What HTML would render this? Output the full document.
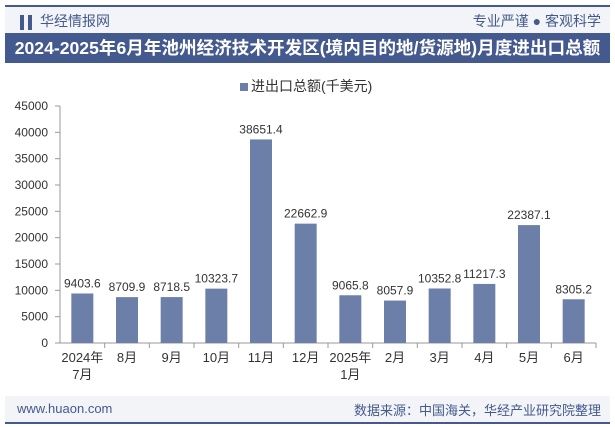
<!DOCTYPE html>
<html><head><meta charset="utf-8"><style>
body{margin:0;width:615px;height:427px;overflow:hidden;background:#fff;font-family:"Liberation Sans","Noto Sans CJK SC",sans-serif;}
#wrap{position:relative;width:615px;height:427px;}
.abs{position:absolute;}
</style></head><body><div id="wrap">
<div class="abs" style="left:5px;top:5px;width:605px;height:2px;background:#44598e"></div>
<div class="abs" style="left:5px;top:7px;width:605px;height:26px;background:#f2f4f8"></div>
<div class="abs" style="left:20px;top:15px;width:12px;height:15px;background:linear-gradient(90deg,#44598e 35%,transparent 35%,transparent 65%,#44598e 65%)"></div>
<div class="abs" style="left:40px;top:11px;font-size:14px;color:#44598e">华经情报网</div>
<div class="abs" style="right:14px;top:11px;font-size:14px;color:#44598e">专业严谨 ● 客观科学</div>
<div class="abs" style="left:5px;top:33px;width:605px;height:30px;background:#44598e;color:#fff;font-size:17.6px;font-weight:bold;line-height:30px;text-align:center;white-space:nowrap">2024-2025年6月年池州经济技术开发区(境内目的地/货源地)月度进出口总额</div>
<div class="abs" style="left:240px;top:76px;font-size:14px;color:#333"><span style="display:inline-block;width:8px;height:8px;background:#6c7fa8;margin-right:3px"></span>进出口总额(千美元)</div>
<svg class="abs" style="left:0;top:0" width="615" height="427" id="svg"></svg>
<div class="abs" style="left:5px;top:396px;width:605px;height:26px;background:#f2f4f8"></div>
<div class="abs" style="left:17px;top:401px;font-size:13px;color:#44598e">www.huaon.com</div>
<div class="abs" style="right:14px;top:400px;font-size:13px;color:#44598e">数据来源：中国海关，华经产业研究院整理</div>
<div class="abs" style="left:5px;top:422px;width:605px;height:2px;background:#44598e"></div>
</div>
<script>
const categories=["2024年|7月","8月","9月","10月","11月","12月","2025年|1月","2月","3月","4月","5月","6月"];
const values=[9403.6,8709.9,8718.5,10323.7,38651.4,22662.9,9065.8,8057.9,10352.8,11217.3,22387.1,8305.2];
const yTicks=[0,5000,10000,15000,20000,25000,30000,35000,40000,45000];
const NS="http://www.w3.org/2000/svg";
const svg=document.getElementById('svg');
const x0=60,x1=596,y0=343,y1=106,yMax=45000;
const bw=(x1-x0)/categories.length;
const y=v=>y0-(v/yMax)*(y0-y1);
const xc=i=>x0+bw*(i+0.5);
function mk(t,a){const e=document.createElementNS(NS,t);for(const k in a)e.setAttribute(k,a[k]);svg.appendChild(e);return e;}
yTicks.forEach(t=>{
const tx=mk('text',{x:48,y:y(t)+4,'text-anchor':'end','font-size':12,fill:'#333'});


tx.textContent=t;
const tk=mk('line',{x1:55,x2:60,y1:y(t),y2:y(t),stroke:'#999'});


});
const ax=mk('line',{x1:x0,x2:x1,y1:y0,y2:y0,stroke:'#999'});


const ay=mk('line',{x1:x0,x2:x0,y1:y1,y2:y0,stroke:'#999'});


categories.forEach((c,i)=>{
const v=values[i];
const r=mk('rect',{x:xc(i)-11,y:y(v),width:22,height:y0-y(v),fill:'#6c7fa8'});


const vl=mk('text',{x:xc(i),y:y(v)-6,'text-anchor':'middle','font-size':12,fill:'#333'});


vl.textContent=v.toFixed(1);
const tk=mk('line',{x1:x0+bw*(i+1),x2:x0+bw*(i+1),y1:y0,y2:y0+5,stroke:'#999'});


c.split('|').forEach((p,j)=>{
const t=mk('text',{x:xc(i),y:362+j*17,'text-anchor':'middle','font-size':13,fill:'#333'});


t.textContent=p;});
});
</script></body></html>
